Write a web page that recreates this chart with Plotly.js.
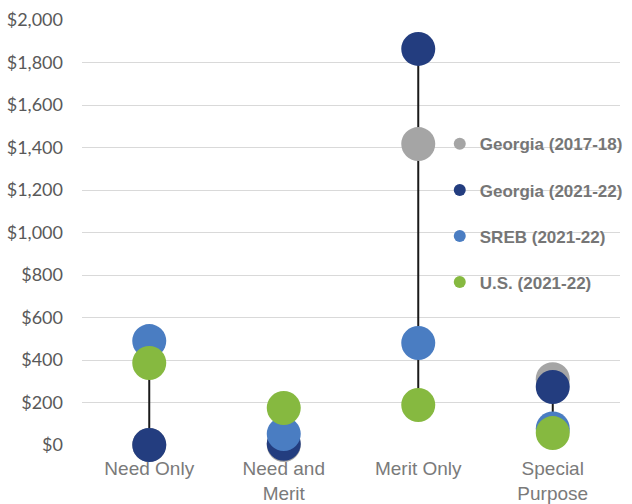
<!DOCTYPE html>
<html><head><meta charset="utf-8">
<script src="https://cdn.plot.ly/plotly-3.0.1.min.js"></script>
<style>html,body{margin:0;padding:0;background:#fff;}#chart{width:632px;height:504px;}</style>
</head><body><div id="chart"></div>
<script>
var categories = ["Need Only", "Need and<br>Merit", "Merit Only", "Special<br>Purpose"];
var seriesNames = ["Georgia (2017-18)", "Georgia (2021-22)", "SREB (2021-22)", "U.S. (2021-22)"];
var georgia1718 = [0, 0, 1416, 310];
var georgia2122 = [0, 6, 1864, 273];
var sreb2122 = [489, 52, 480, 78];
var us2122 = [386, 174, 188, 56];
var yTickVals = [0, 200, 400, 600, 800, 1000, 1200, 1400, 1600, 1800, 2000];
var yTickText = ["$0", "$200", "$400", "$600", "$800", "$1,000", "$1,200", "$1,400", "$1,600", "$1,800", "$2,000"];
var colors = ["#A5A5A5", "#233D7F", "#4A7DC2", "#86B940"];

var all = [georgia1718, georgia2122, sreb2122, us2122];
var lx = [], ly = [];
categories.forEach(function(c, i){
  var vals = all.map(function(s){return s[i];});
  lx.push(c, c, null);
  ly.push(Math.min.apply(null, vals), Math.max.apply(null, vals), null);
});
var traces = [{
  type: "scatter", mode: "lines", x: lx, y: ly, showlegend: false,
  line: {color: "#1a1a1a", width: 2}, hoverinfo: "skip", cliponaxis: false
}];
all.forEach(function(s, k){
  traces.push({
    type: "scatter", mode: "markers", name: seriesNames[k], x: categories, y: s,
    legendgroup: "g" + k, cliponaxis: false,
    marker: {color: colors[k], size: 34, line: {width: 0}}
  });
});
var layout = {
  width: 632, height: 504,
  margin: {l: 82, r: 12, t: 20, b: 59, autoexpand: false},
  paper_bgcolor: "#fff", plot_bgcolor: "#fff",
  showlegend: true,
  legend: {
    x: 0.665, y: 0.75, xanchor: "left", yanchor: "top",
    traceorder: "grouped", tracegroupgap: 21, itemsizing: "constant", itemwidth: 30,
    font: {family: "Liberation Sans, Arial, sans-serif", size: 17, color: "#767676", weight: "bold"},
    bgcolor: "rgba(0,0,0,0)"
  },
  xaxis: {
    type: "category", range: [-0.5, 3.5], showgrid: false, showline: false, zeroline: false,
    ticks: "", tickfont: {family: "Liberation Sans, Arial, sans-serif", size: 19, color: "#7a7a7a"},
    ticklabelstandoff: 10, fixedrange: true
  },
  yaxis: {
    range: [0, 2000], tickvals: yTickVals, ticktext: yTickText,
    showgrid: true, gridcolor: "#d9d9d9", gridwidth: 1, zeroline: false, showline: false,
    ticks: "", ticklabelstandoff: 18,
    tickfont: {family: "Lato, Carlito, sans-serif", size: 18, color: "#595959"}, fixedrange: true
  }
};
Plotly.newPlot("chart", traces, layout, {displayModeBar: false, staticPlot: true});
</script></body></html>
